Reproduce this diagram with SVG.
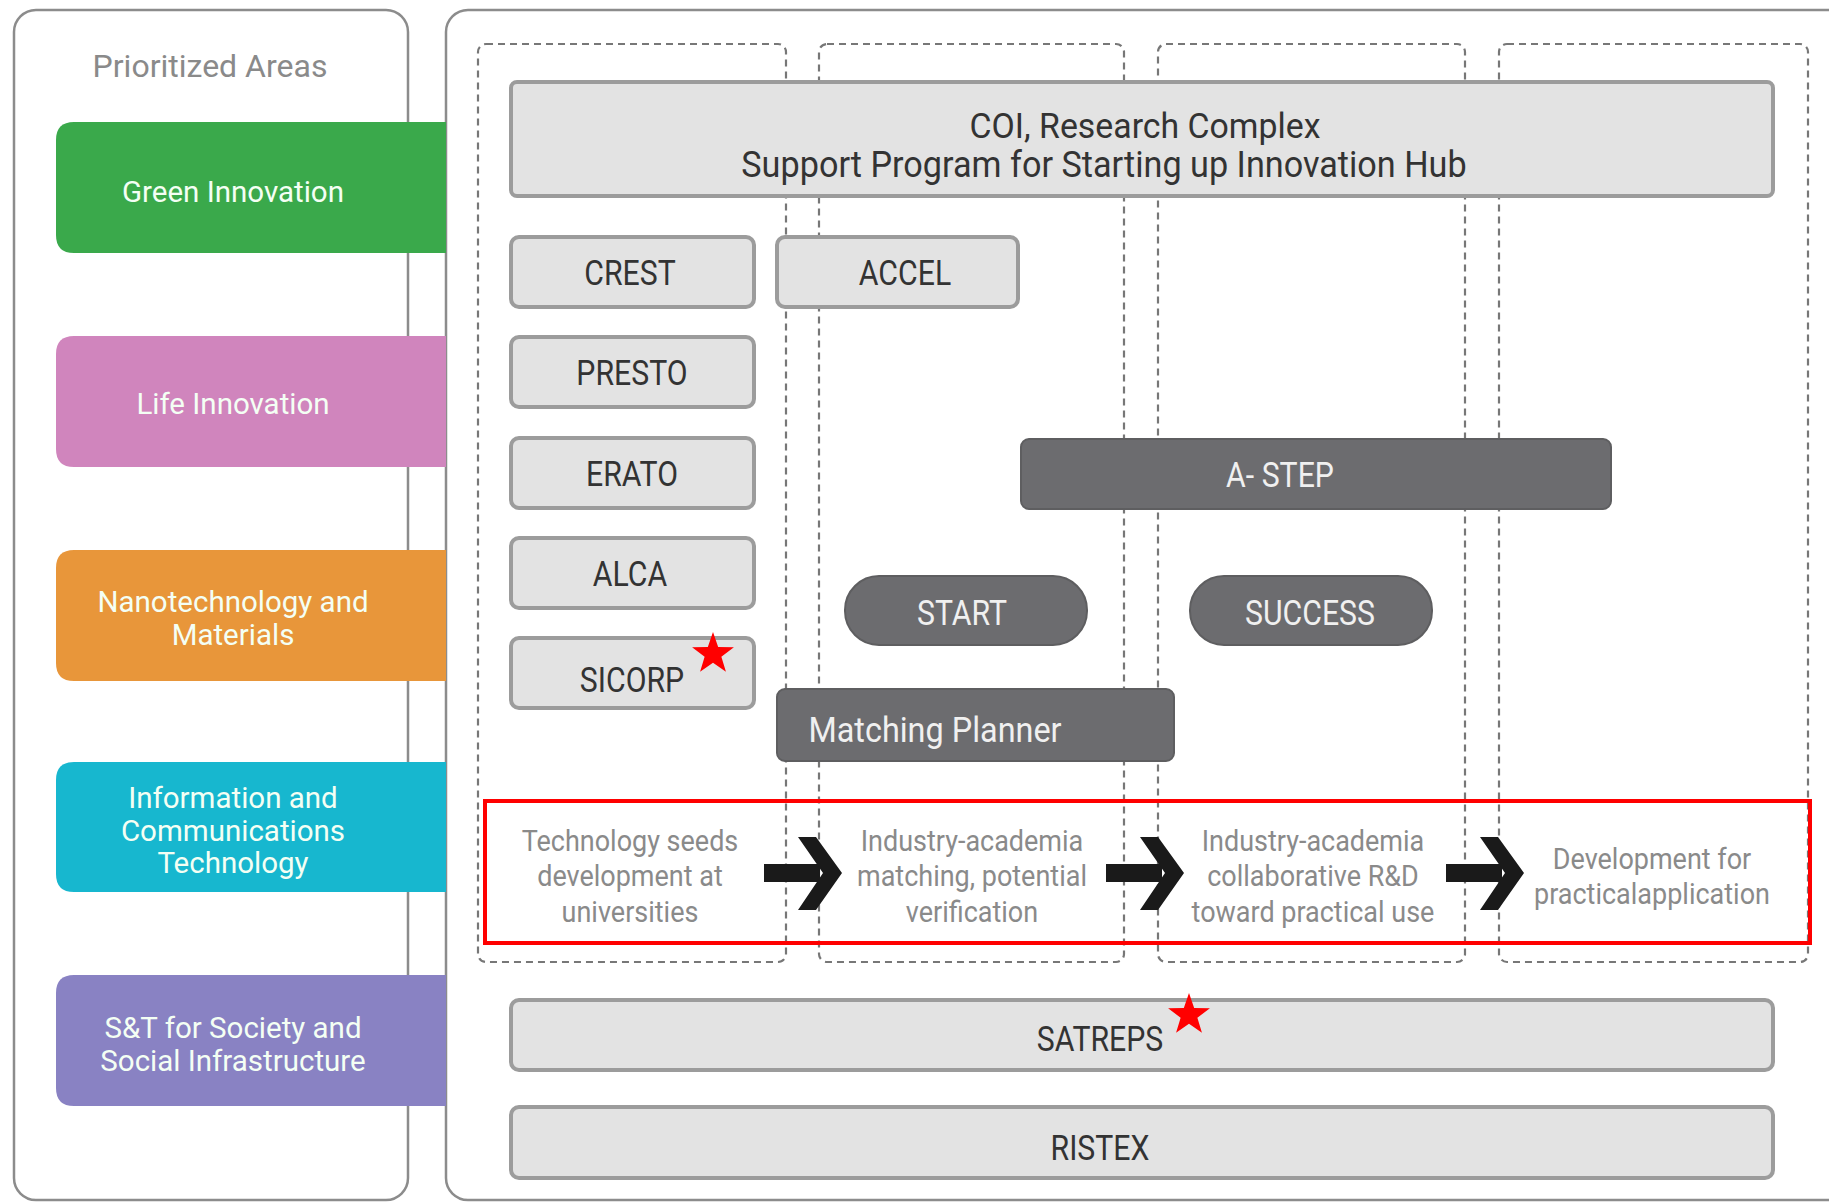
<svg xmlns="http://www.w3.org/2000/svg" width="1829" height="1203" viewBox="0 0 1829 1203">
<style>
text{font-family:Roboto,"Liberation Sans",sans-serif}
.cond{transform-box:fill-box;transform-origin:center;transform:scaleX(0.84)}
.panel{fill:#fff;stroke:#8c8c8c;stroke-width:2.5}
.area text{fill:#f4fff4;font-size:29.5px;text-anchor:middle}
.col{fill:none;stroke:#777;stroke-width:2.2;stroke-dasharray:7 5}
.lbox rect{fill:#e3e3e3;stroke:#9c9c9c;stroke-width:4}
.lbox text{fill:#333;font-size:36px;text-anchor:middle}
.dbox rect{fill:#6c6c6f;stroke:#5e5e60;stroke-width:2}
.dbox text{fill:#f0f0f0;font-size:36px;text-anchor:middle}
.stage text{fill:#8a8a8a;font-size:30px;text-anchor:middle;transform-box:fill-box;transform-origin:center;transform:scaleX(0.9)}
.star{fill:#ff0000}
</style>
<defs>
<polygon id="star" points="0,-22 5.17,-7.12 20.92,-6.8 8.37,2.72 12.93,17.8 0,8.8 -12.93,17.8 -8.37,2.72 -20.92,-6.8 -5.17,-7.12"/>
<g id="arrow"><rect x="0" y="-9" width="56" height="18" fill="#1a1a1a"/><polygon points="34,-36 52,-36 78,0 52,37 34,37 59,0" fill="#1a1a1a"/></g>
</defs>
<g id="left-panel">
<rect class="panel" x="14" y="10" width="394" height="1190" rx="22"/>
<text x="210" y="77" font-size="32" fill="#8a8a8a" text-anchor="middle">Prioritized Areas</text>
</g>
<g id="right-panel"><rect class="panel" x="446" y="10" width="1420" height="1190" rx="22"/></g>
<g id="area-green" class="area"><path d="M446 122H74Q56 122 56 140V235Q56 253 74 253H446Z" fill="#3aa94b"/><text x="233" y="202">Green Innovation</text></g>
<g id="area-life" class="area"><path d="M446 336H74Q56 336 56 354V449Q56 467 74 467H446Z" fill="#d085bd"/><text x="233" y="414" fill="#fbe9f7">Life Innovation</text></g>
<g id="area-nano" class="area"><path d="M446 550H74Q56 550 56 568V663Q56 681 74 681H446Z" fill="#e8963a"/><text x="233" y="612" fill="#fff4e0">Nanotechnology and</text><text x="233" y="645" fill="#fff4e0">Materials</text></g>
<g id="area-ict" class="area"><path d="M446 762H74Q56 762 56 780V874Q56 892 74 892H446Z" fill="#17b7cf"/><text x="233" y="808" fill="#e4fcff">Information and</text><text x="233" y="841" fill="#e4fcff">Communications</text><text x="233" y="873" fill="#e4fcff">Technology</text></g>
<g id="area-st" class="area"><path d="M446 975H74Q56 975 56 993V1088Q56 1106 74 1106H446Z" fill="#8982c3"/><text x="233" y="1038" fill="#eeebff">S&amp;T for Society and</text><text x="233" y="1071" fill="#eeebff">Social Infrastructure</text></g>
<g id="columns">
<rect class="col" x="478" y="44" width="308" height="918" rx="8"/>
<rect class="col" x="819" y="44" width="305" height="918" rx="8"/>
<rect class="col" x="1158" y="44" width="307" height="918" rx="8"/>
<rect class="col" x="1499" y="44" width="309" height="918" rx="8"/>
</g>
<g id="coi" class="lbox"><rect x="511" y="82" width="1262" height="114" rx="6"/><text class="cond" x="1145" y="138" font-size="39" style="transform:scaleX(0.94)">COI, Research Complex</text><text class="cond" x="1104" y="177" font-size="39" style="transform:scaleX(0.95)">Support Program for Starting up Innovation Hub</text></g>
<g id="crest" class="lbox"><rect x="511" y="237" width="243" height="70" rx="8"/><text class="cond" x="630" y="285">CREST</text></g>
<g id="presto" class="lbox"><rect x="511" y="337" width="243" height="70" rx="8"/><text class="cond" x="632" y="385">PRESTO</text></g>
<g id="erato" class="lbox"><rect x="511" y="438" width="243" height="70" rx="8"/><text class="cond" x="632" y="486">ERATO</text></g>
<g id="alca" class="lbox"><rect x="511" y="538" width="243" height="70" rx="8"/><text class="cond" x="630" y="586">ALCA</text></g>
<g id="sicorp" class="lbox"><rect x="511" y="638" width="243" height="70" rx="8"/><text class="cond" x="632" y="692">SICORP</text><use href="#star" class="star" x="713" y="654"/></g>
<g id="accel" class="lbox"><rect x="777" y="237" width="241" height="70" rx="8"/><text class="cond" x="905" y="285">ACCEL</text></g>
<g id="astep" class="dbox"><rect x="1021" y="439" width="590" height="70" rx="8"/><text class="cond" x="1280" y="487">A- STEP</text></g>
<g id="start" class="dbox"><rect x="845" y="576" width="242" height="69" rx="34"/><text class="cond" x="962" y="625">START</text></g>
<g id="success" class="dbox"><rect x="1190" y="576" width="242" height="69" rx="34"/><text class="cond" x="1310" y="625">SUCCESS</text></g>
<g id="matching" class="dbox"><rect x="777" y="689" width="397" height="72" rx="8"/><text class="cond" x="935" y="742" style="transform:scaleX(0.9)">Matching Planner</text></g>
<g id="stages">
<rect x="485" y="801" width="1325" height="142" fill="none" stroke="#ff0000" stroke-width="4"/>
<g id="stage1" class="stage"><text x="630" y="851">Technology seeds</text><text x="630" y="886">development at</text><text x="630" y="922">universities</text></g>
<g id="stage2" class="stage"><text x="972" y="851">Industry-academia</text><text x="972" y="886">matching, potential</text><text x="972" y="922">verification</text></g>
<g id="stage3" class="stage"><text x="1313" y="851">Industry-academia</text><text x="1313" y="886">collaborative R&amp;D</text><text x="1313" y="922">toward practical use</text></g>
<g id="stage4" class="stage"><text x="1652" y="869">Development for</text><text x="1652" y="904">practicalapplication</text></g>
</g>
<g id="connectors">
<use href="#arrow" x="764" y="873"/>
<use href="#arrow" x="1106" y="873"/>
<use href="#arrow" x="1446" y="873"/>
</g>
<g id="satreps" class="lbox"><rect x="511" y="1000" width="1262" height="70" rx="8"/><text class="cond" x="1100" y="1051">SATREPS</text><use href="#star" class="star" x="1189" y="1015"/></g>
<g id="ristex" class="lbox"><rect x="511" y="1107" width="1262" height="71" rx="8"/><text class="cond" x="1100" y="1160">RISTEX</text></g>
</svg>
